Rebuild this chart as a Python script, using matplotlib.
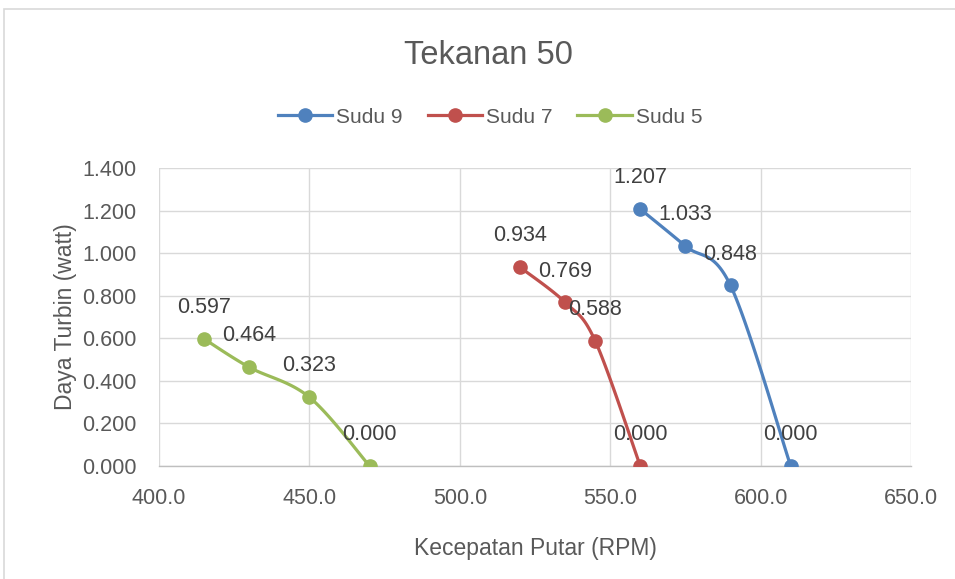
import numpy as np
import matplotlib
matplotlib.use("Agg")
import matplotlib.pyplot as plt
from matplotlib.patches import Rectangle

plt.rcParams['font.family'] = ['Liberation Sans', 'DejaVu Sans']

title = "Tekanan 50"
x_label = "Kecepatan Putar (RPM)"
y_label = "Daya Turbin (watt)"

series_names = ["Sudu 9", "Sudu 7", "Sudu 5"]
rpm_sudu9 = [560, 575, 590, 610]
daya_sudu9 = [1.207, 1.033, 0.848, 0.000]
rpm_sudu7 = [520, 535, 545, 560]
daya_sudu7 = [0.934, 0.769, 0.588, 0.000]
rpm_sudu5 = [415, 430, 450, 470]
daya_sudu5 = [0.597, 0.464, 0.323, 0.000]
colors = ["#4F81BD", "#C0504D", "#9BBB59"]

x_ticks = [400, 450, 500, 550, 600, 650]
y_ticks = [0.0, 0.2, 0.4, 0.6, 0.8, 1.0, 1.2, 1.4]


def smooth(xs, ys, n=40):
    # Catmull-Rom spline through points (similar to Excel smoothed line)
    p = np.column_stack([xs, ys]).astype(float)
    p = np.vstack([p[0], p, p[-1]])
    out = []
    for i in range(1, len(p) - 2):
        p0, p1, p2, p3 = p[i - 1], p[i], p[i + 1], p[i + 2]
        t = np.linspace(0, 1, n)[:, None]
        seg = 0.5 * ((2 * p1) + (-p0 + p2) * t + (2 * p0 - 5 * p1 + 4 * p2 - p3) * t ** 2
                     + (-p0 + 3 * p1 - 3 * p2 + p3) * t ** 3)
        out.append(seg if i == 1 else seg[1:])
    s = np.vstack(out)
    return s[:, 0], s[:, 1]


W, H = 955, 579
fig = plt.figure(figsize=(W / 100, H / 100), dpi=100)
ax = fig.add_axes([159 / W, 1 - 466 / H, (911 - 159) / W, (466 - 168) / H])

# chart border
fig.add_artist(Rectangle((4 / W, -0.1), 1.2, 1.1 - 9 / H, transform=fig.transFigure,
                         fill=False, edgecolor="#d9d9d9", linewidth=1.2))

data = [(rpm_sudu9, daya_sudu9), (rpm_sudu7, daya_sudu7), (rpm_sudu5, daya_sudu5)]
for (xs, ys), name, c in zip(data, series_names, colors):
    sx, sy = smooth(xs, ys)
    ax.plot(sx, sy, color=c, linewidth=2.3, solid_capstyle='round', zorder=3)
    ax.plot(xs, ys, linestyle='none', marker='o', markersize=9.5, color=c, zorder=4)
    ax.plot([], [], color=c, linewidth=2.3, marker='o', markersize=9.5, label=name)
    for x, y in zip(xs, ys):
        ax.annotate(f"{y:.3f}", (x, y), xytext=(0, 22.5), textcoords='offset points',
                    ha='center', va='center', fontsize=15.5, color="#404040", zorder=5)

ax.set_xlim(400, 650)
ax.set_ylim(0, 1.4)
ax.set_xticks(x_ticks)
ax.set_xticklabels([f"{v:.1f}" for v in x_ticks])
ax.set_yticks(y_ticks)
ax.set_yticklabels([f"{v:.3f}" for v in y_ticks])
ax.grid(True, color="#d9d9d9", linewidth=1.0)
ax.set_axisbelow(True)
for s in ['left', 'right', 'top']:
    ax.spines[s].set_visible(False)
ax.spines['bottom'].set_color("#bfbfbf")
ax.spines['bottom'].set_linewidth(1.0)
ax.tick_params(length=0, labelsize=15.5, colors="#595959")
ax.tick_params(axis='y', pad=16)
ax.tick_params(axis='x', pad=16)
ax.set_xlabel(x_label, fontsize=16.5, color="#595959", labelpad=20)
ax.set_ylabel(y_label, fontsize=16.5, color="#595959", labelpad=4)

fig.text(488 / W, 1 - 55 / H, title, ha='center', va='center', fontsize=23.5, color="#595959")
fig.legend(loc='center', bbox_to_anchor=(490 / W, 1 - 117 / H), ncol=3, frameon=False,
           fontsize=15, labelcolor="#595959", handlelength=2.6, handletextpad=0.2,
           columnspacing=1.2)

fig.savefig("out.png", dpi=100)
